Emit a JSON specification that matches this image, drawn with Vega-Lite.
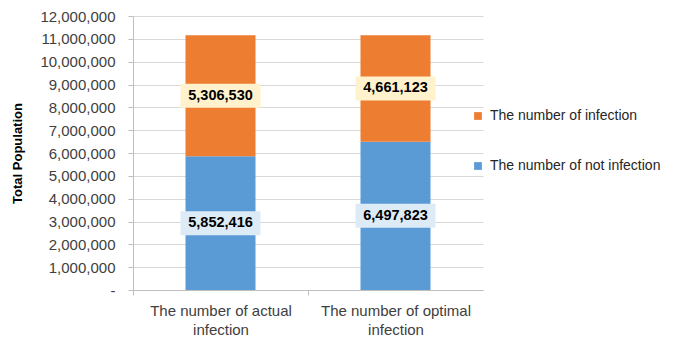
{
  "$schema": "https://vega.github.io/schema/vega-lite/v6.json",
  "autosize": "none",
  "width": 350,
  "height": 274,
  "padding": {"left": 133, "top": 16, "right": 192, "bottom": 51},
  "background": "white",
  "config": {
    "font": "Liberation Sans",
    "view": {"stroke": null}
  },
  "data": {
    "values": [
      {"scenario": "The number of actual infection", "series": "The number of not infection", "value": 5852416},
      {"scenario": "The number of actual infection", "series": "The number of infection", "value": 5306530},
      {"scenario": "The number of optimal infection", "series": "The number of not infection", "value": 6497823},
      {"scenario": "The number of optimal infection", "series": "The number of infection", "value": 4661123}
    ]
  },
  "transform": [
    {"stack": "value", "groupby": ["scenario"], "sort": [{"field": "series", "order": "descending"}], "as": ["v0", "v1"]},
    {"calculate": "(datum.v0 + datum.v1) / 2", "as": "mid"}
  ],
  "encoding": {
    "x": {
      "field": "scenario",
      "type": "nominal",
      "sort": null,
      "scale": {"paddingInner": 0.6, "paddingOuter": 0.3},
      "axis": {
        "title": null,
        "labelAngle": 0,
        "labelFontSize": 15,
        "labelColor": "#404040",
        "labelLineHeight": 19,
        "labelPadding": 8,
        "labelExpr": "[slice(datum.value, 0, lastindexof(datum.value, ' ')), slice(datum.value, lastindexof(datum.value, ' ') + 1)]",
        "tickOffset": -87.5,
        "labelOffset": 87.5,
        "tickSize": 5,
        "tickColor": "#BFBFBF",
        "domainColor": "#BFBFBF",
        "grid": false
      }
    }
  },
  "layer": [
    {
      "mark": {"type": "bar"},
      "encoding": {
        "y": {
          "field": "v0",
          "type": "quantitative",
          "scale": {"domain": [0, 12000000], "nice": false},
          "axis": {
            "title": "Total Population",
            "titleFontSize": 13,
            "titleFontWeight": "bold",
            "titleColor": "#000000",
            "titlePadding": 15,
            "values": [0, 1000000, 2000000, 3000000, 4000000, 5000000, 6000000, 7000000, 8000000, 9000000, 10000000, 11000000, 12000000],
            "labelExpr": "datum.value == 0 ? '-' : format(datum.value, ',')",
            "labelOverlap": false,
            "labelFontSize": 15,
            "labelColor": "#404040",
            "labelPadding": 13,
            "tickSize": 5,
            "tickColor": "#BFBFBF",
            "domainColor": "#BFBFBF",
            "gridColor": "#D9D9D9"
          }
        },
        "y2": {"field": "v1"},
        "color": {
          "field": "series",
          "type": "nominal",
          "scale": {
            "domain": ["The number of infection", "The number of not infection"],
            "range": ["#ED7D31", "#5B9BD5"]
          },
          "legend": {
            "title": null,
            "orient": "none",
            "legendX": 338,
            "legendY": 93,
            "symbolType": "square",
            "symbolSize": 60,
            "symbolStrokeWidth": 0,
            "labelFontSize": 14,
            "labelLimit": 300,
            "labelColor": "#262626",
            "labelOffset": 5,
            "rowPadding": 36
          }
        }
      }
    },
    {
      "mark": {
        "type": "point",
        "filled": true,
        "opacity": 1,
        "size": 400,
        "shape": "M-4,-1.2L4,-1.2L4,1.2L-4,1.2Z"
      },
      "encoding": {
        "y": {
          "field": "mid",
          "type": "quantitative",
          "axis": {
            "title": "Total Population",
            "titleFontSize": 13,
            "titleFontWeight": "bold",
            "titleColor": "#000000",
            "titlePadding": 15,
            "values": [0, 1000000, 2000000, 3000000, 4000000, 5000000, 6000000, 7000000, 8000000, 9000000, 10000000, 11000000, 12000000],
            "labelExpr": "datum.value == 0 ? '-' : format(datum.value, ',')",
            "labelOverlap": false,
            "labelFontSize": 15,
            "labelColor": "#404040",
            "labelPadding": 13,
            "tickSize": 5,
            "tickColor": "#BFBFBF",
            "domainColor": "#BFBFBF",
            "gridColor": "#D9D9D9"
          }
        },
        "fill": {
          "condition": {"test": "datum.series == 'The number of infection'", "value": "#FFF2CC"},
          "value": "#DDEBF7"
        }
      }
    },
    {
      "mark": {"type": "text", "fontSize": 14.5, "fontWeight": "bold", "color": "#000000"},
      "encoding": {
        "y": {
          "field": "mid",
          "type": "quantitative",
          "axis": {
            "title": "Total Population",
            "titleFontSize": 13,
            "titleFontWeight": "bold",
            "titleColor": "#000000",
            "titlePadding": 15,
            "values": [0, 1000000, 2000000, 3000000, 4000000, 5000000, 6000000, 7000000, 8000000, 9000000, 10000000, 11000000, 12000000],
            "labelExpr": "datum.value == 0 ? '-' : format(datum.value, ',')",
            "labelOverlap": false,
            "labelFontSize": 15,
            "labelColor": "#404040",
            "labelPadding": 13,
            "tickSize": 5,
            "tickColor": "#BFBFBF",
            "domainColor": "#BFBFBF",
            "gridColor": "#D9D9D9"
          }
        },
        "text": {"field": "value", "type": "quantitative", "format": ","}
      }
    }
  ]
}
